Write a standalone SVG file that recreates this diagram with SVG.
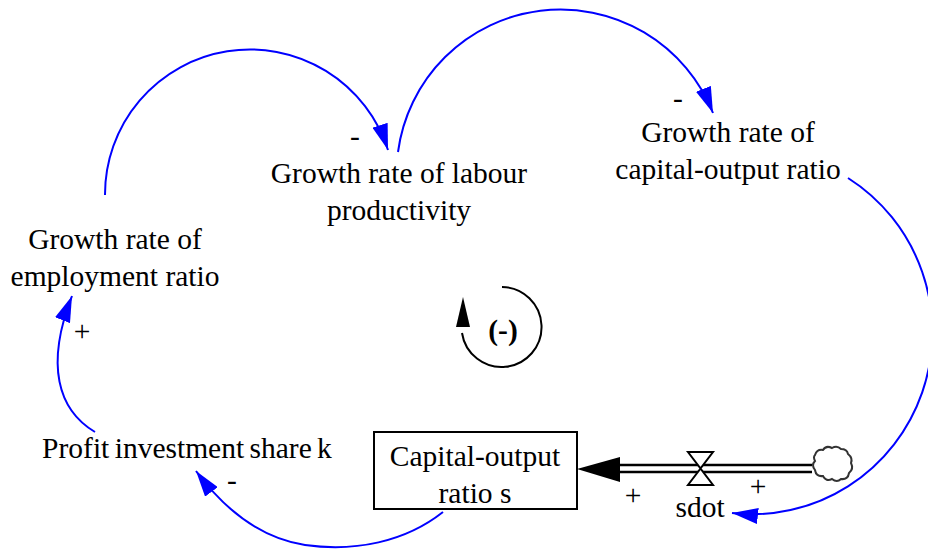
<svg xmlns="http://www.w3.org/2000/svg" width="928" height="551" viewBox="0 0 928 551">
<style>
text{font-family:"Liberation Serif","Times New Roman",serif;font-size:29.5px;fill:#000;text-anchor:middle}
.c{fill:none;stroke:#0000ff;stroke-width:2}
</style>
<defs>
<marker id="ab" viewBox="0 0 26 16" refX="26" refY="8" markerWidth="26" markerHeight="16" markerUnits="userSpaceOnUse" orient="auto"><path d="M0,0 L26,8 L0,16 z" fill="#0000ff"/></marker>
</defs>
<rect width="928" height="551" fill="#fff"/>
<g id="labour"><text x="399" y="183">Growth rate of labour</text><text x="399" y="220">productivity</text></g>
<g id="capratio"><text x="728" y="142">Growth rate of</text><text x="728" y="179">capital-output ratio</text></g>
<g id="employment"><text x="115" y="249">Growth rate of</text><text x="115" y="286">employment ratio</text></g>
<g id="profit"><text x="187" y="458" word-spacing="-2">Profit investment share k</text></g>
<g id="stock"><rect x="374" y="432" width="203" height="77" fill="#fff" stroke="#000" stroke-width="2"/><text x="475" y="466">Capital-output</text><text x="475" y="503">ratio s</text></g>
<g id="flow">
<line x1="619" y1="465" x2="812" y2="465" stroke="#000" stroke-width="2.5"/>
<line x1="619" y1="472" x2="812" y2="472" stroke="#000" stroke-width="2.5"/>
<path d="M577,469 L620,457 L620,482 z" fill="#000"/>
<path d="M688,452 L713,452 L700.5,468.5 L713,485 L688,485 L700.5,468.5 z" fill="#fff" stroke="#000" stroke-width="2"/>
<text x="700" y="517">sdot</text>
</g>
<g id="cloud"><path d="M815,455 q2,-6 8,-5 q3,-5 9,-2 q5,-3 9,1 q6,0 7,5 q5,4 3,9 q3,6 -2,10 q-1,7 -8,6 q-4,4 -9,0 q-6,3 -9,-3 q-7,1 -8,-6 q-4,-5 0,-9 q-2,-4 0,-6 z" fill="#fff" stroke="#333" stroke-width="2"/></g>
<g id="connectors">
<path class="c" d="M105,195 A145,145 0 0 1 388,150" marker-end="url(#ab)"/>
<path class="c" d="M398,152 A164,164 0 0 1 713,113" marker-end="url(#ab)"/>
<path class="c" d="M848,178 A180,182 0 0 1 732,513" marker-end="url(#ab)"/>
<path class="c" d="M443,512 C405,542 355,552 305,545 C260,538 225,510 196,471" marker-end="url(#ab)"/>
<path class="c" d="M95,432 C58,410 45,365 72,296" marker-end="url(#ab)"/>
</g>
<g id="polarities">
<text x="355" y="146">-</text>
<text x="678" y="108">-</text>
<text x="82" y="341">+</text>
<text x="232" y="490">-</text>
<text x="633" y="505">+</text>
<text x="758" y="496">+</text>
</g>
<g id="loop">
<path d="M502,287 A40,40 0 1 1 462,333" fill="none" stroke="#000" stroke-width="2"/>
<path d="M463,297 L456,327 L470,327 z" fill="#000"/>
<text x="503" y="340" font-weight="bold" font-size="30">(-)</text>
</g>
</svg>
